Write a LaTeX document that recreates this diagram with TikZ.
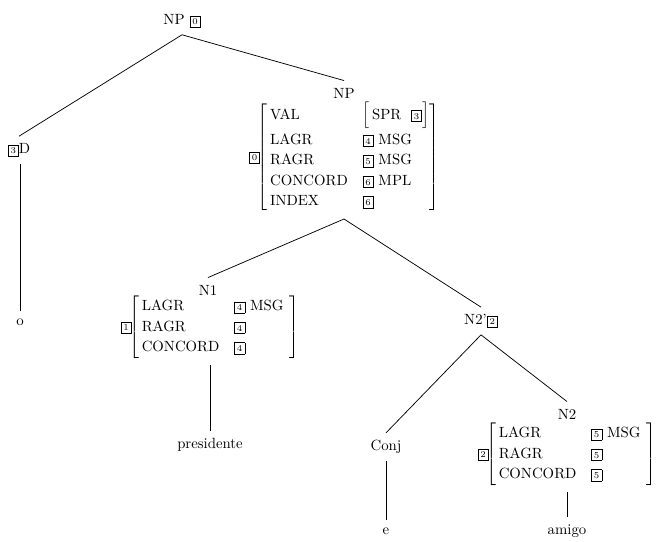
\documentclass[tikz,border=0pt]{standalone}
\newcommand\bx[1]{{\setlength\fboxsep{0.9pt}\setlength\fboxrule{0.4pt}\fbox{\makebox[4.8pt][c]{\rule[-0.5pt]{0pt}{5.4pt}\fontsize{6}{6}\selectfont #1}}}}
\newcommand\avm[2][4pt]{\hspace{-1.5pt}$\left[\renewcommand\arraystretch{1.15}\begin{tabular}{@{\,}l@{\hspace{10pt}}l@{\hspace{#1}}}#2\end{tabular}\right]$}
\begin{document}
\begin{tikzpicture}[x=0.676pt,y=-0.676pt,
  lbl/.style={inner sep=2pt,outer sep=3pt},
  edge/.style={draw,line width=0.5pt}]
\useasboundingbox (0,0) rectangle (657,542);
\node[lbl] (np0) at (182,21) {NP \bx{0}};
\node[lbl] (d) at (19,150) {\bx{3}D};
\node[lbl] (o) at (20,322) {o};
\node[lbl] (np1) at (344,93) {NP};
\node[lbl] (np1avm) at (344,157) {\bx{0}\avm[0pt]{VAL & $\left[\rule[-5.5pt]{0pt}{16pt}\mbox{\,SPR\ \ \bx{3}}\right]$\\[3pt] LAGR & \bx{4} MSG\\ RAGR & \bx{5} MSG\\ CONCORD & \bx{6} MPL\\ INDEX & \bx{6}}};
\node[lbl] (n1) at (208,290) {N1};
\node[lbl] (n1avm) at (210,327) {\bx{1}\avm{LAGR & \bx{4} MSG\\ RAGR & \bx{4}\\ CONCORD & \bx{4}}};
\node[lbl] (pres) at (210,445) {presidente};
\node[lbl] (n2p) at (481,321) {N2'\bx{2}};
\node[lbl] (conj) at (386,447) {Conj};
\node[lbl] (e) at (386,531) {e};
\node[lbl] (n2) at (567,414) {N2};
\node[lbl] (n2avm) at (567,454) {\bx{2}\avm{LAGR & \bx{5} MSG\\ RAGR & \bx{5}\\ CONCORD & \bx{5}}};
\node[lbl] (amigo) at (567,531) {amigo};
\draw[edge] (np0.south) -- (d.north);
\draw[edge] (np0.south) -- (np1.north);
\draw[edge] (o.north |- d.south) -- (o.north);
\draw[edge] (np1avm.south) -- (n1.north);
\draw[edge] (np1avm.south) -- (n2p.north);
\draw[edge] (pres.north |- n1avm.south) -- (pres.north);
\draw[edge] (n2p.south) -- (conj.north);
\draw[edge] (n2p.south) -- (n2.north);
\draw[edge] (conj.south) -- (e.north);
\draw[edge] (amigo.north |- n2avm.south) -- (amigo.north);
\end{tikzpicture}
\end{document}
